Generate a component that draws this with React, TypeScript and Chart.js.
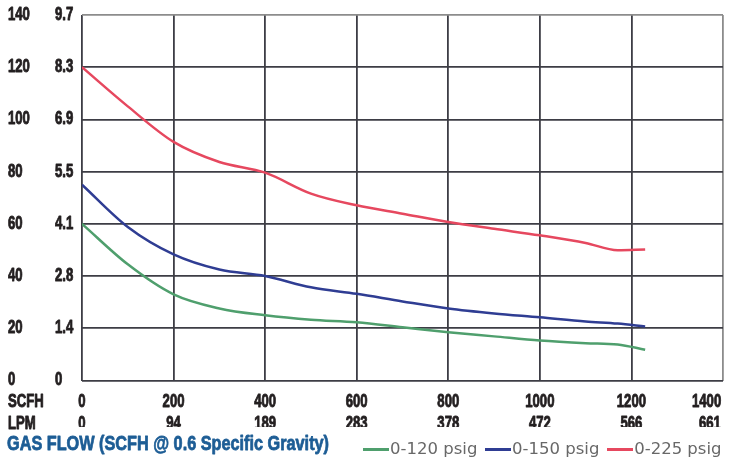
import React, { useEffect, useRef } from "react";
import { Chart, registerables } from "chart.js";

Chart.register(...registerables);

// ---- data ----
const flowScfh = [0, 100, 200, 300, 400, 500, 600, 700, 800, 900, 1000, 1100, 1170, 1230];
const psig120 = [60, 44.5, 33, 27.6, 25, 23.3, 22.3, 20.4, 18.5, 16.9, 15.3, 14.3, 13.8, 11.8];
const psig150 = [75, 58.8, 48.3, 42.5, 40, 35.7, 33.2, 30.3, 27.6, 25.7, 24.2, 22.6, 21.8, 20.7];
const psig225 = [120, 105, 91.4, 83.7, 79.6, 71.6, 67.1, 63.9, 60.7, 58.1, 55.6, 52.7, 49.9, 50.2];

const scfhTicks = ["0", "200", "400", "600", "800", "1000", "1200", "1400\u2003\u2003\u2002"];
const lpmTicks = ["0", "94", "189", "283", "378", "472", "566", "661\u2003\u2003"];
const psiTicks = ["0", "1.4", "2.8", "4.1", "5.5", "6.9", "8.3", "9.7"];
const seriesLabels = ["0-120 psig", "0-150 psig", "0-225 psig"];
const seriesColors = ["#4f9f6d", "#2f3d93", "#e6485f"];
const rowHeaders = ["SCFH", "LPM"];
const titleText = "GAS FLOW (SCFH @ 0.6 Specific Gravity)";

const BOLD_FAMILY = "'Liberation Sans', Arial, sans-serif";
const BOLD_SIZE = 18;
const SQUEEZE = 0.73;
const TICK_LH = 21.5;
const TICK_PAD = 11;

// Condensed, heavy rendering of the bold axis text (no condensed font is installed)
const condensePlugin = {
  id: "condense",
  beforeDraw(chart: any) {
    const ctx = chart.ctx as any;
    if (ctx.__origFill) return;
    const orig = CanvasRenderingContext2D.prototype.fillText;
    const origStroke = CanvasRenderingContext2D.prototype.strokeText;
    ctx.__origFill = orig;
    ctx.fillText = function (text: string, x: number, y: number, maxWidth?: number) {
      if (String(ctx.font).indexOf("bold " + BOLD_SIZE + "px") >= 0) {
        ctx.save();
        ctx.translate(x, y);
        ctx.scale(SQUEEZE, 1);
        orig.call(ctx, text, 0, 0);
        ctx.strokeStyle = ctx.fillStyle;
        ctx.lineWidth = 0.9;
        ctx.lineJoin = "round";
        origStroke.call(ctx, text, 0, 0);
        ctx.restore();
      } else if (maxWidth !== undefined) {
        orig.call(ctx, text, x, y, maxWidth);
      } else {
        orig.call(ctx, text, x, y);
      }
    };
  },
  afterDraw(chart: any) {
    const ctx = chart.ctx as any;
    const xs = chart.scales.x;
    ctx.save();
    ctx.font = `bold ${BOLD_SIZE}px ${BOLD_FAMILY}`;
    ctx.fillStyle = "#231f20";
    ctx.textBaseline = "middle";
    ctx.textAlign = "left";
    const y0 = xs.top + TICK_PAD;
    rowHeaders.forEach((h, i) => ctx.fillText(h, 8, y0 + TICK_LH * (i + 0.5)));
    ctx.font = `bold 21px ${BOLD_FAMILY}`;
    ctx.fillStyle = "#1d5d95";
    ctx.strokeStyle = "#1d5d95";
    ctx.lineWidth = 0.8;
    ctx.lineJoin = "round";
    ctx.textBaseline = "alphabetic";
    ctx.fillText(titleText, 7, 450, 322);
    ctx.strokeText(titleText, 7, 450, 322);
    ctx.restore();
    delete ctx.fillText;
    delete ctx.__origFill;
  },
};

const gridColor = (edge: number) => (c: any) =>
  c.tick && c.tick.value === edge ? "#8c8c8c" : "#3d3d45";

function lineMarker(color: string) {
  const c = document.createElement("canvas");
  c.width = 26;
  c.height = 3;
  const g = c.getContext("2d")!;
  g.fillStyle = color;
  g.fillRect(0, 0, 26, 3);
  return c;
}

export default function App() {
  const ref = useRef<HTMLCanvasElement | null>(null);
  useEffect(() => {
    if (!ref.current) return;
    const mk = (vals: number[]) => flowScfh.map((x, i) => ({ x, y: vals[i] }));
    const series = [psig120, psig150, psig225];
    const tickFont = { size: BOLD_SIZE, weight: "bold", family: BOLD_FAMILY };
    const chart = new Chart(ref.current, {
      type: "line",
      data: {
        datasets: series.map((s, i) => ({
          label: seriesLabels[i],
          data: mk(s),
          borderColor: seriesColors[i],
          backgroundColor: seriesColors[i],
          borderWidth: 2.5,
          pointRadius: 0,
          pointStyle: lineMarker(seriesColors[i]),
          fill: false,
          cubicInterpolationMode: "monotone" as const,
        })),
      },
      options: {
        animation: false,
        responsive: false,
        layout: { padding: { left: 8, right: 0, top: 15, bottom: -7 } },
        plugins: {
          tooltip: { enabled: false },
          legend: {
            position: "bottom",
            align: "end",
            labels: {
              usePointStyle: true,
              pointStyleWidth: 12,
              padding: 14.5,
              color: "#686868",
              font: { size: 16.5, family: "'DejaVu Sans', sans-serif" },
            },
          },
        },
        scales: {
          x: {
            type: "linear",
            min: 0,
            max: 1400,
            border: { display: false },
            grid: { color: gridColor(1400), lineWidth: 1.8, drawTicks: false },
            ticks: {
              stepSize: 200,
              autoSkip: false,
              minRotation: 0,
              maxRotation: 0,
              padding: TICK_PAD,
              color: "#231f20",
              font: { ...tickFont, lineHeight: TICK_LH / BOLD_SIZE },
              callback: (_v: any, i: number) => [scfhTicks[i], lpmTicks[i]],
            },
            afterFit: (s: any) => {
              s.height = 46.5;
              s.paddingRight = 13;
              s.paddingLeft = 0;
            },
          },
          y: {
            type: "linear",
            position: "left",
            weight: 1,
            min: 0,
            max: 140,
            border: { display: false },
            grid: { color: gridColor(140), lineWidth: 1.8, drawTicks: false },
            ticks: {
              stepSize: 20,
              crossAlign: "far",
              color: "#231f20",
              font: tickFont,
            },
            afterFit: (s: any) => {
              s.width = 47;
            },
          },
          y2: {
            type: "linear",
            position: "left",
            weight: 0,
            min: 0,
            max: 140,
            border: { display: false },
            grid: { display: false, drawTicks: false },
            ticks: {
              stepSize: 20,
              crossAlign: "far",
              color: "#231f20",
              font: tickFont,
              callback: (_v: any, i: number) => psiTicks[i],
            },
            afterFit: (s: any) => {
              s.width = 27;
            },
          },
        },
      } as any,
      plugins: [condensePlugin],
    });
    return () => chart.destroy();
  }, []);
  return (
    <div style={{ position: "absolute", left: 0, top: 0, width: 736, height: 461, background: "#fff" }}>
      <canvas ref={ref} width={736} height={461} style={{ display: "block" }} />
    </div>
  );
}
